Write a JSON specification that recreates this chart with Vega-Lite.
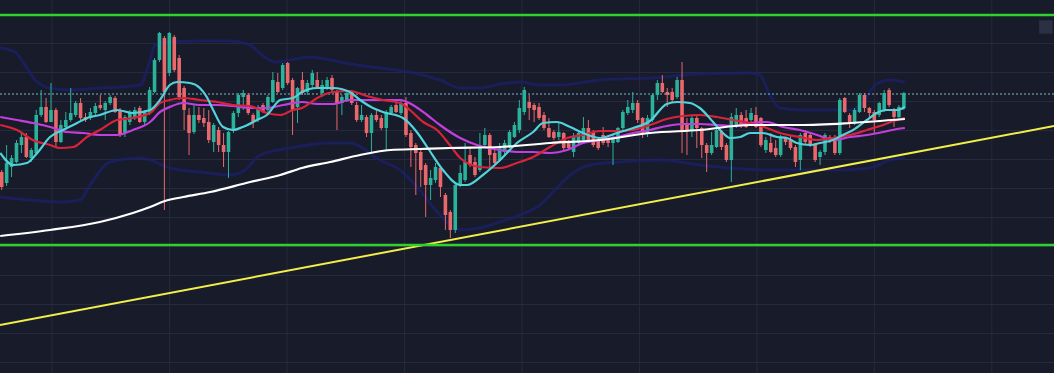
{
  "$schema": "https://vega.github.io/schema/vega-lite/v6.json",
  "width": 1054,
  "height": 373,
  "autosize": {"type": "none"},
  "padding": 0,
  "background": "#181b2a",
  "config": {
    "view": {"stroke": null},
    "scale": {"continuousPadding": 0}
  },
  "datasets": {
    "vgrid": [{"t": 10.2}, {"t": 34.03}, {"t": 57.87}, {"t": 81.7}, {"t": 105.53}, {"t": 129.36}, {"t": 153.19}, {"t": 177.02}, {"t": 200.85}],
    "hgrid": [{"p": 10.5}, {"p": 39.5}, {"p": 68.5}, {"p": 97.5}, {"p": 126.5}, {"p": 155.5}, {"p": 184.5}, {"p": 213.5}, {"p": 242.5}, {"p": 271.5}, {"p": 300.5}, {"p": 329.5}, {"p": 358.5}],
    "levels": [{"p": 358}, {"p": 128}],
    "dotted": [{"p": 279}],
    "trend": [{"t": -0.345, "p": 48}, {"t": 213.45, "p": 247}],
    "icon": [{"t": 211.8, "p": 346}],
    "candles": [
      {"t":0,"o":201,"c":186,"h":203,"l":183},{"t":1,"o":190,"c":210,"h":228,"l":187},{"t":2,"o":206,"c":215,"h":218,"l":196},{"t":3,"o":211,"c":230,"h":233,"l":210},{"t":4,"o":228,"c":236,"h":240,"l":220},{"t":5,"o":236,"c":216,"h":240,"l":215},{"t":6,"o":215,"c":223,"h":225,"l":211},{"t":7,"o":220,"c":258,"h":263,"l":218},{"t":8,"o":258,"c":266,"h":283,"l":256},{"t":9,"o":266,"c":251,"h":275,"l":250},
      {"t":10,"o":251,"c":263,"h":290,"l":251},{"t":11,"o":263,"c":231,"h":265,"l":226},{"t":12,"o":231,"c":248,"h":253,"l":230},{"t":13,"o":246,"c":253,"h":261,"l":243},{"t":14,"o":253,"c":260,"h":285,"l":251},{"t":15,"o":258,"c":270,"h":272,"l":256},{"t":16,"o":270,"c":255,"h":275,"l":253},{"t":17,"o":256,"c":253,"h":260,"l":251},{"t":18,"o":255,"c":261,"h":265,"l":253},{"t":19,"o":260,"c":267,"h":270,"l":258},
      {"t":20,"o":268,"c":265,"h":278,"l":263},{"t":21,"o":263,"c":270,"h":272,"l":253},{"t":22,"o":270,"c":276,"h":278,"l":268},{"t":23,"o":275,"c":261,"h":277,"l":260},{"t":24,"o":263,"c":238,"h":265,"l":236},{"t":25,"o":240,"c":256,"h":258,"l":236},{"t":26,"o":251,"c":261,"h":263,"l":248},{"t":27,"o":256,"c":263,"h":266,"l":253},{"t":28,"o":265,"c":251,"h":267,"l":250},{"t":29,"o":251,"c":261,"h":263,"l":248},
      {"t":30,"o":260,"c":283,"h":286,"l":258},{"t":31,"o":281,"c":313,"h":315,"l":280},{"t":32,"o":313,"c":340,"h":341,"l":311},{"t":33,"o":335,"c":281,"h":337,"l":163},{"t":34,"o":300,"c":340,"h":341,"l":297},{"t":35,"o":336,"c":303,"h":338,"l":301},{"t":36,"o":315,"c":276,"h":318,"l":273},{"t":37,"o":285,"c":263,"h":287,"l":243},{"t":38,"o":258,"c":240,"h":265,"l":218},{"t":39,"o":241,"c":258,"h":268,"l":239},
      {"t":40,"o":258,"c":253,"h":266,"l":250},{"t":41,"o":255,"c":250,"h":265,"l":246},{"t":42,"o":251,"c":233,"h":263,"l":230},{"t":43,"o":231,"c":248,"h":250,"l":221},{"t":44,"o":243,"c":228,"h":246,"l":221},{"t":45,"o":228,"c":221,"h":240,"l":206},{"t":46,"o":221,"c":241,"h":242,"l":195},{"t":47,"o":243,"c":260,"h":262,"l":240},{"t":48,"o":260,"c":278,"h":280,"l":256},{"t":49,"o":276,"c":280,"h":283,"l":263},
      {"t":50,"o":278,"c":260,"h":280,"l":258},{"t":51,"o":258,"c":251,"h":260,"l":245},{"t":52,"o":253,"c":265,"h":268,"l":251},{"t":53,"o":268,"c":261,"h":270,"l":260},{"t":54,"o":263,"c":276,"h":278,"l":260},{"t":55,"o":271,"c":293,"h":301,"l":270},{"t":56,"o":291,"c":281,"h":300,"l":280},{"t":57,"o":285,"c":308,"h":310,"l":283},{"t":58,"o":310,"c":290,"h":311,"l":288},{"t":59,"o":293,"c":263,"h":295,"l":238},
      {"t":60,"o":266,"c":285,"h":286,"l":250},{"t":61,"o":293,"c":280,"h":301,"l":278},{"t":62,"o":281,"c":290,"h":293,"l":278},{"t":63,"o":288,"c":300,"h":303,"l":285},{"t":64,"o":293,"c":286,"h":301,"l":285},{"t":65,"o":280,"c":288,"h":293,"l":276},{"t":66,"o":286,"c":293,"h":296,"l":283},{"t":67,"o":295,"c":283,"h":298,"l":281},{"t":68,"o":281,"c":270,"h":283,"l":243},{"t":69,"o":270,"c":276,"h":278,"l":258},
      {"t":70,"o":273,"c":280,"h":283,"l":271},{"t":71,"o":281,"c":270,"h":283,"l":268},{"t":72,"o":268,"c":253,"h":271,"l":251},{"t":73,"o":253,"c":258,"h":268,"l":251},{"t":74,"o":256,"c":240,"h":258,"l":236},{"t":75,"o":240,"c":258,"h":260,"l":221},{"t":76,"o":258,"c":253,"h":263,"l":251},{"t":77,"o":255,"c":245,"h":258,"l":243},{"t":78,"o":245,"c":261,"h":263,"l":223},{"t":79,"o":260,"c":266,"h":268,"l":258},
      {"t":80,"o":268,"c":261,"h":271,"l":260},{"t":81,"o":260,"c":270,"h":273,"l":258},{"t":82,"o":270,"c":238,"h":276,"l":236},{"t":83,"o":240,"c":226,"h":243,"l":206},{"t":84,"o":228,"c":220,"h":230,"l":178},{"t":85,"o":221,"c":203,"h":223,"l":186},{"t":86,"o":208,"c":188,"h":210,"l":156},{"t":87,"o":188,"c":195,"h":203,"l":173},{"t":88,"o":193,"c":206,"h":210,"l":190},{"t":89,"o":205,"c":186,"h":206,"l":176},
      {"t":90,"o":178,"c":158,"h":180,"l":143},{"t":91,"o":161,"c":143,"h":163,"l":135},{"t":92,"o":143,"c":188,"h":190,"l":140},{"t":93,"o":188,"c":200,"h":208,"l":186},{"t":94,"o":193,"c":211,"h":230,"l":191},{"t":95,"o":218,"c":208,"h":226,"l":206},{"t":96,"o":211,"c":198,"h":216,"l":196},{"t":97,"o":203,"c":225,"h":240,"l":201},{"t":98,"o":228,"c":238,"h":245,"l":225},{"t":99,"o":238,"c":218,"h":240,"l":206},
      {"t":100,"o":220,"c":210,"h":223,"l":208},{"t":101,"o":213,"c":225,"h":230,"l":211},{"t":102,"o":221,"c":230,"h":233,"l":218},{"t":103,"o":226,"c":241,"h":243,"l":225},{"t":104,"o":236,"c":248,"h":251,"l":235},{"t":105,"o":243,"c":265,"h":273,"l":240},{"t":106,"o":261,"c":283,"h":286,"l":258},{"t":107,"o":271,"c":265,"h":278,"l":253},{"t":108,"o":268,"c":263,"h":270,"l":251},{"t":109,"o":266,"c":255,"h":270,"l":253},
      {"t":110,"o":258,"c":245,"h":261,"l":243},{"t":111,"o":245,"c":236,"h":255,"l":235},{"t":112,"o":241,"c":235,"h":243,"l":233},{"t":113,"o":236,"c":241,"h":250,"l":233},{"t":114,"o":240,"c":225,"h":241,"l":223},{"t":115,"o":231,"c":225,"h":233,"l":223},{"t":116,"o":221,"c":236,"h":240,"l":216},{"t":117,"o":230,"c":240,"h":243,"l":228},{"t":118,"o":233,"c":245,"h":256,"l":231},{"t":119,"o":245,"c":231,"h":253,"l":230},
      {"t":120,"o":241,"c":228,"h":243,"l":226},{"t":121,"o":233,"c":225,"h":235,"l":223},{"t":122,"o":238,"c":230,"h":246,"l":228},{"t":123,"o":235,"c":230,"h":238,"l":226},{"t":124,"o":230,"c":235,"h":238,"l":208},{"t":125,"o":231,"c":245,"h":246,"l":230},{"t":126,"o":245,"c":261,"h":263,"l":243},{"t":127,"o":260,"c":266,"h":273,"l":258},{"t":128,"o":263,"c":270,"h":281,"l":260},{"t":129,"o":270,"c":253,"h":273,"l":250},
      {"t":130,"o":255,"c":240,"h":256,"l":235},{"t":131,"o":240,"c":255,"h":258,"l":236},{"t":132,"o":253,"c":278,"h":280,"l":251},{"t":133,"o":278,"c":290,"h":293,"l":273},{"t":134,"o":290,"c":281,"h":298,"l":280},{"t":135,"o":281,"c":278,"h":285,"l":266},{"t":136,"o":281,"c":273,"h":285,"l":270},{"t":137,"o":276,"c":293,"h":296,"l":274},{"t":138,"o":293,"c":243,"h":311,"l":220},{"t":139,"o":250,"c":243,"h":255,"l":218},
      {"t":140,"o":243,"c":255,"h":258,"l":236},{"t":141,"o":255,"c":245,"h":258,"l":225},{"t":142,"o":245,"c":228,"h":246,"l":215},{"t":143,"o":228,"c":220,"h":230,"l":201},{"t":144,"o":220,"c":228,"h":241,"l":218},{"t":145,"o":226,"c":243,"h":245,"l":225},{"t":146,"o":241,"c":226,"h":243,"l":223},{"t":147,"o":228,"c":213,"h":230,"l":211},{"t":148,"o":213,"c":256,"h":260,"l":191},{"t":149,"o":246,"c":258,"h":265,"l":245},
      {"t":150,"o":258,"c":248,"h":261,"l":245},{"t":151,"o":255,"c":246,"h":263,"l":245},{"t":152,"o":253,"c":260,"h":265,"l":250},{"t":153,"o":258,"c":246,"h":266,"l":245},{"t":154,"o":255,"c":228,"h":256,"l":226},{"t":155,"o":223,"c":233,"h":236,"l":220},{"t":156,"o":230,"c":221,"h":240,"l":220},{"t":157,"o":225,"c":218,"h":233,"l":216},{"t":158,"o":218,"c":236,"h":238,"l":216},{"t":159,"o":235,"c":231,"h":236,"l":228},
      {"t":160,"o":233,"c":225,"h":238,"l":223},{"t":161,"o":226,"c":211,"h":228,"l":206},{"t":162,"o":213,"c":238,"h":240,"l":203},{"t":163,"o":240,"c":231,"h":243,"l":228},{"t":164,"o":238,"c":228,"h":240,"l":226},{"t":165,"o":228,"c":213,"h":230,"l":211},{"t":166,"o":216,"c":221,"h":223,"l":208},{"t":167,"o":221,"c":238,"h":240,"l":218},{"t":168,"o":236,"c":233,"h":238,"l":230},{"t":169,"o":236,"c":220,"h":238,"l":218},
      {"t":170,"o":220,"c":273,"h":275,"l":218},{"t":171,"o":275,"c":261,"h":276,"l":260},{"t":172,"o":258,"c":250,"h":260,"l":245},{"t":173,"o":250,"c":263,"h":265,"l":248},{"t":174,"o":261,"c":278,"h":280,"l":260},{"t":175,"o":278,"c":265,"h":280,"l":261},{"t":176,"o":265,"c":260,"h":266,"l":255},{"t":177,"o":261,"c":253,"h":263,"l":240},{"t":178,"o":258,"c":270,"h":271,"l":256},{"t":179,"o":263,"c":280,"h":283,"l":261},
      {"t":180,"o":283,"c":268,"h":285,"l":266},{"t":181,"o":263,"c":256,"h":265,"l":246},{"t":182,"o":256,"c":266,"h":268,"l":255},{"t":183,"o":265,"c":280,"h":281,"l":263}
    ],
    "white": [
      {"t":-0.3,"p":137},{"t":9.8,"p":143},{"t":19.9,"p":151},{"t":26.6,"p":160},{"t":30.1,"p":166},{"t":33.1,"p":172},{"t":36.8,"p":176},{"t":42.3,"p":181},{"t":50.4,"p":191},{"t":56.5,"p":198},{"t":60.9,"p":205},{"t":66.6,"p":211},{"t":72.7,"p":218},{"t":78.8,"p":223},{"t":84.8,"p":224},{"t":90.9,"p":225},{"t":101.1,"p":226},{"t":111.2,"p":230},{"t":121.4,"p":233},{"t":131.5,"p":240},{"t":141.6,"p":243},{"t":151.8,"p":248},{"t":161.9,"p":248},{"t":172.1,"p":250},{"t":183.2,"p":254}
    ],
    "cyan": [
      {"t":-0.3,"p":220},{"t":2.3,"p":208},{"t":5.1,"p":210},{"t":7.2,"p":220},{"t":9.8,"p":236},{"t":12.4,"p":243},{"t":15.3,"p":250},{"t":17.3,"p":255},{"t":19.9,"p":258},{"t":23.4,"p":263},{"t":26.6,"p":260},{"t":30.1,"p":263},{"t":32.1,"p":273},{"t":34.1,"p":288},{"t":35.6,"p":291},{"t":38.2,"p":290},{"t":40.2,"p":285},{"t":41.6,"p":276},{"t":42.9,"p":263},{"t":44.9,"p":246},{"t":46.9,"p":243},{"t":48.9,"p":246},{"t":51.8,"p":253},{"t":53.8,"p":258},{"t":56.5,"p":273},{"t":59.1,"p":275},{"t":60.9,"p":281},{"t":64.0,"p":285},{"t":67.2,"p":285},{"t":70.6,"p":281},{"t":72.7,"p":273},{"t":75.3,"p":265},{"t":77.3,"p":261},{"t":81.4,"p":255},{"t":84.2,"p":241},{"t":86.3,"p":226},{"t":89.5,"p":203},{"t":93.0,"p":188},{"t":94.4,"p":188},{"t":97.6,"p":198},{"t":101.1,"p":213},{"t":104.5,"p":230},{"t":107.8,"p":241},{"t":109.8,"p":250},{"t":112.6,"p":251},{"t":115.3,"p":246},{"t":117.9,"p":240},{"t":121.4,"p":235},{"t":124.8,"p":240},{"t":128.1,"p":245},{"t":131.5,"p":252},{"t":134.9,"p":269},{"t":137.0,"p":271},{"t":139.6,"p":270},{"t":141.6,"p":265},{"t":144.3,"p":251},{"t":146.3,"p":240},{"t":147.7,"p":235},{"t":149.8,"p":236},{"t":151.8,"p":240},{"t":154.4,"p":240},{"t":157.3,"p":236},{"t":159.3,"p":235},{"t":161.3,"p":230},{"t":164.0,"p":228},{"t":166.0,"p":230},{"t":168.6,"p":233},{"t":170.6,"p":238},{"t":172.7,"p":243},{"t":175.5,"p":253},{"t":177.5,"p":260},{"t":179.5,"p":263},{"t":181.6,"p":263},{"t":183.2,"p":266}
    ],
    "red": [
      {"t":-0.3,"p":248},{"t":3.1,"p":243},{"t":6.3,"p":233},{"t":9.8,"p":228},{"t":11.8,"p":225},{"t":14.5,"p":226},{"t":17.3,"p":236},{"t":19.9,"p":243},{"t":23.4,"p":253},{"t":26.6,"p":255},{"t":30.1,"p":260},{"t":32.1,"p":270},{"t":34.1,"p":273},{"t":36.8,"p":275},{"t":40.2,"p":273},{"t":43.7,"p":271},{"t":46.9,"p":268},{"t":50.4,"p":267},{"t":53.8,"p":260},{"t":56.5,"p":258},{"t":59.1,"p":263},{"t":60.9,"p":265},{"t":64.0,"p":275},{"t":67.2,"p":281},{"t":70.6,"p":282},{"t":74.1,"p":277},{"t":77.3,"p":273},{"t":80.8,"p":270},{"t":82.8,"p":263},{"t":85.5,"p":251},{"t":88.3,"p":243},{"t":90.9,"p":228},{"t":93.0,"p":215},{"t":97.0,"p":206},{"t":101.1,"p":205},{"t":104.5,"p":210},{"t":107.8,"p":216},{"t":111.2,"p":226},{"t":114.7,"p":235},{"t":117.9,"p":238},{"t":121.4,"p":242},{"t":124.8,"p":242},{"t":128.1,"p":243},{"t":131.5,"p":248},{"t":134.9,"p":254},{"t":138.2,"p":257},{"t":141.6,"p":258},{"t":145.1,"p":256},{"t":148.3,"p":253},{"t":151.8,"p":250},{"t":155.2,"p":245},{"t":157.9,"p":240},{"t":161.9,"p":236},{"t":165.4,"p":233},{"t":168.6,"p":235},{"t":172.1,"p":238},{"t":175.5,"p":243},{"t":178.8,"p":248},{"t":181.6,"p":253},{"t":183.2,"p":255}
    ],
    "magenta": [
      {"t":-0.3,"p":256},{"t":3.1,"p":253},{"t":6.3,"p":250},{"t":9.8,"p":246},{"t":13.2,"p":241},{"t":16.5,"p":240},{"t":19.9,"p":238},{"t":23.4,"p":238},{"t":26.6,"p":243},{"t":30.1,"p":251},{"t":32.1,"p":261},{"t":34.1,"p":266},{"t":36.8,"p":270},{"t":40.2,"p":268},{"t":43.7,"p":268},{"t":46.9,"p":267},{"t":50.4,"p":265},{"t":53.8,"p":265},{"t":57.1,"p":268},{"t":60.9,"p":271},{"t":64.0,"p":269},{"t":67.2,"p":269},{"t":70.6,"p":273},{"t":74.1,"p":273},{"t":77.3,"p":273},{"t":80.8,"p":273},{"t":83.4,"p":268},{"t":86.3,"p":258},{"t":88.9,"p":248},{"t":93.0,"p":235},{"t":96.4,"p":228},{"t":101.1,"p":223},{"t":104.5,"p":221},{"t":107.8,"p":221},{"t":111.2,"p":220},{"t":114.7,"p":223},{"t":117.9,"p":230},{"t":121.4,"p":233},{"t":124.8,"p":236},{"t":128.1,"p":240},{"t":131.5,"p":243},{"t":134.9,"p":247},{"t":138.2,"p":249},{"t":141.6,"p":249},{"t":145.1,"p":248},{"t":148.3,"p":247},{"t":151.8,"p":250},{"t":155.2,"p":251},{"t":158.5,"p":246},{"t":161.9,"p":243},{"t":165.4,"p":238},{"t":168.6,"p":233},{"t":172.1,"p":236},{"t":175.5,"p":238},{"t":178.8,"p":241},{"t":181.6,"p":244},{"t":183.2,"p":245}
    ],
    "upper": [
      {"t":-0.3,"p":325},{"t":2.7,"p":321},{"t":4.7,"p":308},{"t":6.8,"p":293},{"t":9.8,"p":285},{"t":13.9,"p":283},{"t":19.9,"p":285},{"t":24.0,"p":286},{"t":28.1,"p":288},{"t":30.1,"p":313},{"t":31.1,"p":328},{"t":34.1,"p":331},{"t":40.2,"p":332},{"t":46.3,"p":332},{"t":50.4,"p":328},{"t":52.8,"p":318},{"t":55.4,"p":311},{"t":58.5,"p":313},{"t":62.5,"p":316},{"t":66.6,"p":313},{"t":70.6,"p":309},{"t":76.7,"p":305},{"t":82.8,"p":301},{"t":88.9,"p":293},{"t":93.0,"p":285},{"t":97.0,"p":285},{"t":101.1,"p":289},{"t":105.1,"p":291},{"t":109.2,"p":288},{"t":113.2,"p":288},{"t":121.4,"p":293},{"t":131.5,"p":295},{"t":141.6,"p":299},{"t":151.8,"p":300},{"t":153.8,"p":298},{"t":155.8,"p":278},{"t":157.9,"p":265},{"t":161.9,"p":263},{"t":172.1,"p":263},{"t":175.1,"p":273},{"t":177.1,"p":288},{"t":180.2,"p":293},{"t":183.2,"p":291}
    ],
    "lower": [
      {"t":-0.3,"p":176},{"t":5.7,"p":173},{"t":11.8,"p":171},{"t":15.9,"p":173},{"t":17.9,"p":188},{"t":22.0,"p":211},{"t":28.1,"p":215},{"t":30.1,"p":213},{"t":34.1,"p":205},{"t":40.2,"p":201},{"t":46.3,"p":198},{"t":49.4,"p":203},{"t":52.4,"p":218},{"t":58.5,"p":225},{"t":66.6,"p":230},{"t":70.6,"p":230},{"t":76.7,"p":213},{"t":80.8,"p":203},{"t":84.8,"p":183},{"t":88.9,"p":158},{"t":93.0,"p":143},{"t":97.0,"p":145},{"t":101.1,"p":151},{"t":105.1,"p":158},{"t":109.2,"p":168},{"t":112.2,"p":183},{"t":115.3,"p":198},{"t":119.3,"p":208},{"t":125.4,"p":211},{"t":133.5,"p":213},{"t":141.6,"p":208},{"t":147.7,"p":205},{"t":153.8,"p":203},{"t":161.9,"p":203},{"t":170.0,"p":203},{"t":176.1,"p":205},{"t":180.2,"p":213},{"t":183.2,"p":215}
    ]
  },
  "layer": [
    {
      "data": {"name": "vgrid"},
      "mark": {"type": "rule", "color": "#262a3c", "strokeWidth": 1},
      "encoding": {
        "x": {"field": "t", "type": "quantitative", "scale": {"domain": [-0.345, 213.45], "nice": false, "zero": false, "padding": 0}, "axis": null}
      }
    },
    {
      "data": {"name": "hgrid"},
      "mark": {"type": "rule", "color": "#262a3c", "strokeWidth": 1},
      "encoding": {
        "y": {"field": "p", "type": "quantitative", "scale": {"domain": [0, 373], "nice": false, "zero": false, "padding": 0}, "axis": null}
      }
    },
    {
      "data": {"name": "upper"},
      "mark": {"type": "line", "color": "#1b206e", "strokeWidth": 3, "opacity": 0.7, "interpolate": "monotone"},
      "encoding": {
        "x": {"field": "t", "type": "quantitative", "scale": {"domain": [-0.345, 213.45], "nice": false, "zero": false, "padding": 0}, "axis": null},
        "y": {"field": "p", "type": "quantitative", "scale": {"domain": [0, 373], "nice": false, "zero": false, "padding": 0}, "axis": null}
      }
    },
    {
      "data": {"name": "lower"},
      "mark": {"type": "line", "color": "#1b206e", "strokeWidth": 3, "opacity": 0.7, "interpolate": "monotone"},
      "encoding": {
        "x": {"field": "t", "type": "quantitative", "scale": {"domain": [-0.345, 213.45], "nice": false, "zero": false, "padding": 0}, "axis": null},
        "y": {"field": "p", "type": "quantitative", "scale": {"domain": [0, 373], "nice": false, "zero": false, "padding": 0}, "axis": null}
      }
    },
    {
      "data": {"name": "trend"},
      "mark": {"type": "line", "color": "#f2ee4a", "strokeWidth": 2},
      "encoding": {
        "x": {"field": "t", "type": "quantitative", "scale": {"domain": [-0.345, 213.45], "nice": false, "zero": false, "padding": 0}, "axis": null},
        "y": {"field": "p", "type": "quantitative", "scale": {"domain": [0, 373], "nice": false, "zero": false, "padding": 0}, "axis": null}
      }
    },
    {
      "data": {"name": "levels"},
      "mark": {"type": "rule", "color": "#2fd12f", "strokeWidth": 2.5},
      "encoding": {
        "y": {"field": "p", "type": "quantitative", "scale": {"domain": [0, 373], "nice": false, "zero": false, "padding": 0}, "axis": null}
      }
    },
    {
      "data": {"name": "dotted"},
      "mark": {"type": "rule", "color": "#7fb8c8", "strokeWidth": 1, "strokeDash": [2, 2]},
      "encoding": {
        "y": {"field": "p", "type": "quantitative", "scale": {"domain": [0, 373], "nice": false, "zero": false, "padding": 0}, "axis": null}
      }
    },
    {
      "data": {"name": "candles"},
      "mark": {"type": "rule", "strokeWidth": 1},
      "encoding": {
        "x": {"field": "t", "type": "quantitative", "scale": {"domain": [-0.345, 213.45], "nice": false, "zero": false, "padding": 0}, "axis": null},
        "y": {"field": "l", "type": "quantitative", "scale": {"domain": [0, 373], "nice": false, "zero": false, "padding": 0}, "axis": null},
        "y2": {"field": "h"},
        "color": {"condition": {"test": "datum.c >= datum.o", "value": "#2ab29a"}, "value": "#e8686c"}
      }
    },
    {
      "data": {"name": "candles"},
      "mark": {"type": "bar", "size": 3.6},
      "encoding": {
        "x": {"field": "t", "type": "quantitative", "scale": {"domain": [-0.345, 213.45], "nice": false, "zero": false, "padding": 0}, "axis": null},
        "y": {"field": "o", "type": "quantitative", "scale": {"domain": [0, 373], "nice": false, "zero": false, "padding": 0}, "axis": null},
        "y2": {"field": "c"},
        "color": {"condition": {"test": "datum.c >= datum.o", "value": "#2ab29a"}, "value": "#e8686c"}
      }
    },
    {
      "data": {"name": "magenta"},
      "mark": {"type": "line", "color": "#c23fdc", "strokeWidth": 2.2, "interpolate": "monotone"},
      "encoding": {
        "x": {"field": "t", "type": "quantitative", "scale": {"domain": [-0.345, 213.45], "nice": false, "zero": false, "padding": 0}, "axis": null},
        "y": {"field": "p", "type": "quantitative", "scale": {"domain": [0, 373], "nice": false, "zero": false, "padding": 0}, "axis": null}
      }
    },
    {
      "data": {"name": "red"},
      "mark": {"type": "line", "color": "#d6243a", "strokeWidth": 2.2, "interpolate": "monotone"},
      "encoding": {
        "x": {"field": "t", "type": "quantitative", "scale": {"domain": [-0.345, 213.45], "nice": false, "zero": false, "padding": 0}, "axis": null},
        "y": {"field": "p", "type": "quantitative", "scale": {"domain": [0, 373], "nice": false, "zero": false, "padding": 0}, "axis": null}
      }
    },
    {
      "data": {"name": "cyan"},
      "mark": {"type": "line", "color": "#52d3da", "strokeWidth": 2.2, "interpolate": "monotone"},
      "encoding": {
        "x": {"field": "t", "type": "quantitative", "scale": {"domain": [-0.345, 213.45], "nice": false, "zero": false, "padding": 0}, "axis": null},
        "y": {"field": "p", "type": "quantitative", "scale": {"domain": [0, 373], "nice": false, "zero": false, "padding": 0}, "axis": null}
      }
    },
    {
      "data": {"name": "white"},
      "mark": {"type": "line", "color": "#ffffff", "strokeWidth": 2.2, "interpolate": "monotone"},
      "encoding": {
        "x": {"field": "t", "type": "quantitative", "scale": {"domain": [-0.345, 213.45], "nice": false, "zero": false, "padding": 0}, "axis": null},
        "y": {"field": "p", "type": "quantitative", "scale": {"domain": [0, 373], "nice": false, "zero": false, "padding": 0}, "axis": null}
      }
    },
    {
      "data": {"name": "icon"},
      "mark": {"type": "point", "shape": "square", "filled": true, "size": 180, "color": "#2c3044", "opacity": 1},
      "encoding": {
        "x": {"field": "t", "type": "quantitative", "scale": {"domain": [-0.345, 213.45], "nice": false, "zero": false, "padding": 0}, "axis": null},
        "y": {"field": "p", "type": "quantitative", "scale": {"domain": [0, 373], "nice": false, "zero": false, "padding": 0}, "axis": null}
      }
    }
  ]
}
